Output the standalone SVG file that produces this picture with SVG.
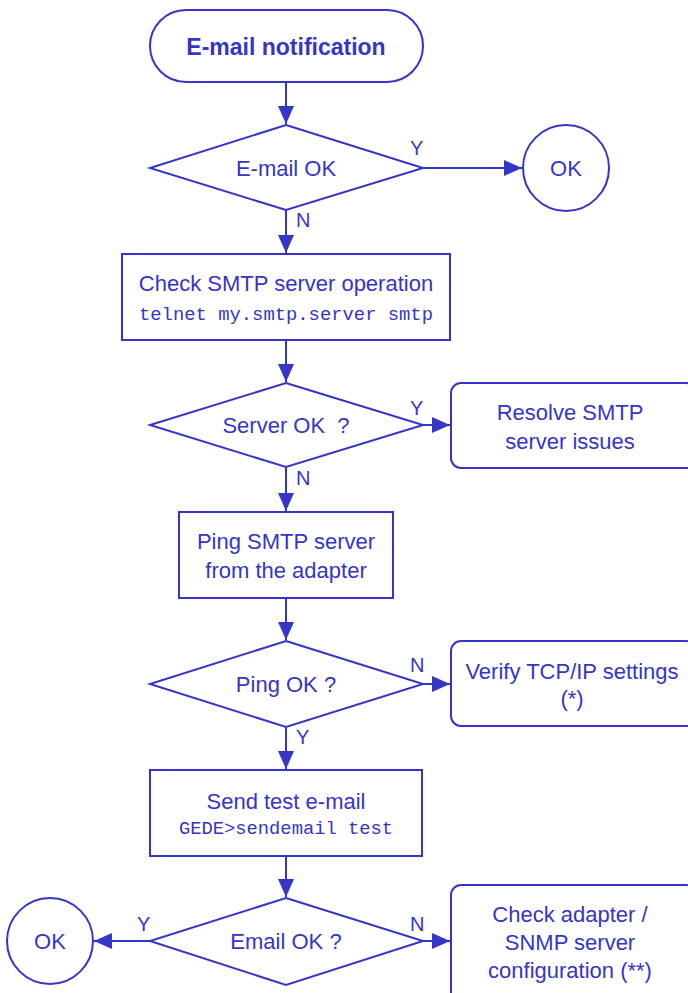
<svg xmlns="http://www.w3.org/2000/svg" width="688" height="993" viewBox="0 0 688 993">
<style>
.s{fill:#fff;stroke:#3535c8;stroke-width:2}
.c{fill:none;stroke:#3535c8;stroke-width:2}
.t{font-family:"Liberation Sans",Arial,sans-serif;font-size:22px;fill:#3535c8;text-anchor:middle}
.b{font-weight:bold;font-size:23px}
.m{font-family:"Liberation Mono","Courier New",monospace;font-size:18px;fill:#3535c8;text-anchor:middle}
.l{font-family:"Liberation Sans",Arial,sans-serif;font-size:20px;fill:#3535c8}
</style>
<defs>
<marker id="a" markerWidth="9" markerHeight="8" refX="9" refY="4" orient="auto" markerUnits="strokeWidth">
<path d="M0,0 L9,4 L0,8 Z" fill="#3535c8"/>
</marker>
</defs>
<g id="connectors">
<line class="c" x1="286" y1="82" x2="286" y2="124" marker-end="url(#a)"/>
<line class="c" x1="423" y1="168" x2="522" y2="168" marker-end="url(#a)"/>
<line class="c" x1="286" y1="210" x2="286" y2="253" marker-end="url(#a)"/>
<line class="c" x1="286" y1="340" x2="286" y2="382" marker-end="url(#a)"/>
<line class="c" x1="423" y1="425" x2="450" y2="425" marker-end="url(#a)"/>
<line class="c" x1="286" y1="467" x2="286" y2="511" marker-end="url(#a)"/>
<line class="c" x1="286" y1="598" x2="286" y2="640" marker-end="url(#a)"/>
<line class="c" x1="423" y1="684" x2="450" y2="684" marker-end="url(#a)"/>
<line class="c" x1="286" y1="727" x2="286" y2="769" marker-end="url(#a)"/>
<line class="c" x1="286" y1="856" x2="286" y2="897" marker-end="url(#a)"/>
<line class="c" x1="150" y1="941" x2="94" y2="941" marker-end="url(#a)"/>
<line class="c" x1="423" y1="941" x2="450" y2="941" marker-end="url(#a)"/>
<text class="l" x="410" y="155">Y</text>
<text class="l" x="296" y="227">N</text>
<text class="l" x="410" y="415">Y</text>
<text class="l" x="296" y="485">N</text>
<text class="l" x="410" y="672">N</text>
<text class="l" x="296" y="744">Y</text>
<text class="l" x="137" y="931">Y</text>
<text class="l" x="410" y="931">N</text>
</g>
<g id="start">
<rect class="s" x="150" y="10" width="273" height="72" rx="36"/>
<text class="t b" x="286" y="55">E-mail notification</text>
</g>
<g id="d1">
<polygon class="s" points="286,125 423,168 286,210 150,168"/>
<text class="t" x="286" y="176">E-mail OK</text>
</g>
<g id="ok1">
<circle class="s" cx="566" cy="168" r="43"/>
<text class="t" x="566" y="176">OK</text>
</g>
<g id="check">
<rect class="s" x="122" y="254" width="328" height="86"/>
<text class="t" x="286" y="291">Check SMTP server operation</text>
<text class="m" x="286" y="320" textLength="294" lengthAdjust="spacingAndGlyphs">telnet my.smtp.server smtp</text>
</g>
<g id="d2">
<polygon class="s" points="286,383 423,425 286,467 150,425"/>
<text class="t" x="286" y="433" xml:space="preserve">Server OK  ?</text>
</g>
<g id="resolve">
<rect class="s" x="451" y="383" width="245" height="85" rx="10"/>
<text class="t" x="570" y="420">Resolve SMTP</text>
<text class="t" x="570" y="449">server issues</text>
</g>
<g id="ping">
<rect class="s" x="179" y="512" width="214" height="86"/>
<text class="t" x="286" y="549">Ping SMTP server</text>
<text class="t" x="286" y="578">from the adapter</text>
</g>
<g id="d3">
<polygon class="s" points="286,641 423,684 286,727 150,684"/>
<text class="t" x="286" y="692">Ping OK ?</text>
</g>
<g id="verify">
<rect class="s" x="451" y="641" width="245" height="85" rx="10"/>
<text class="t" x="572" y="679">Verify TCP/IP settings</text>
<text class="t" x="572" y="706">(*)</text>
</g>
<g id="send">
<rect class="s" x="150" y="770" width="272" height="86"/>
<text class="t" x="286" y="809">Send test e-mail</text>
<text class="m" x="286" y="834" textLength="214" lengthAdjust="spacingAndGlyphs">GEDE&gt;sendemail test</text>
</g>
<g id="d4">
<polygon class="s" points="286,898 423,941 286,985 150,941"/>
<text class="t" x="286" y="949">Email OK ?</text>
</g>
<g id="ok2">
<circle class="s" cx="50" cy="941" r="43"/>
<text class="t" x="50" y="949">OK</text>
</g>
<g id="adapter">
<rect class="s" x="451" y="885" width="245" height="120" rx="10"/>
<text class="t" x="570" y="922">Check adapter /</text>
<text class="t" x="570" y="950">SNMP server</text>
<text class="t" x="570" y="978">configuration (**)</text>
</g>
</svg>
